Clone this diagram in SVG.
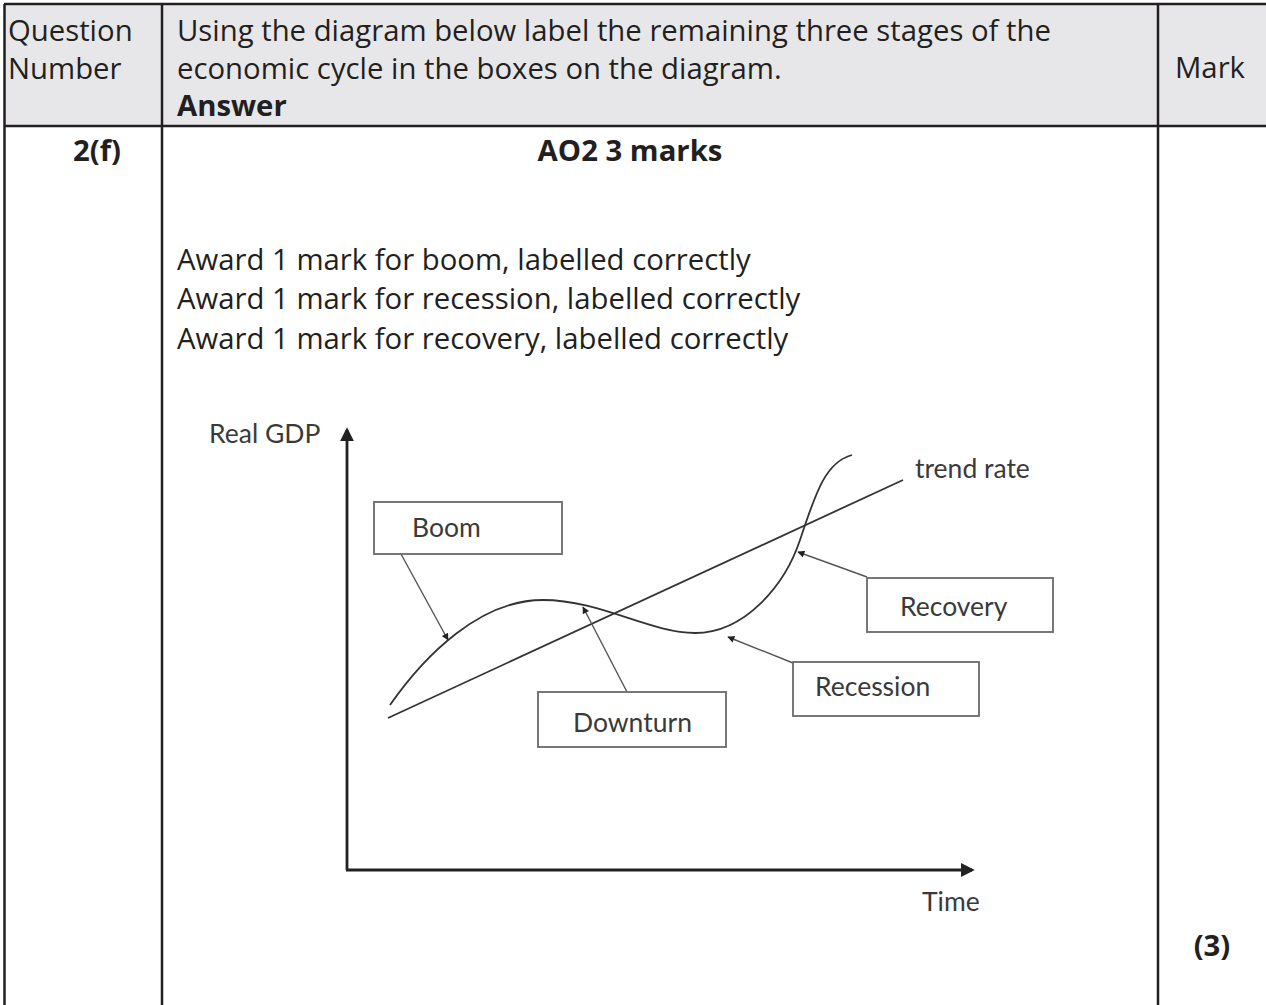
<svg xmlns="http://www.w3.org/2000/svg" width="1266" height="1005" viewBox="0 0 1266 1005">
<style>
.t{font-family:"Open Sans","DejaVu Sans",sans-serif;font-size:29.3px;fill:#231f20}
.b{font-weight:bold}
.c{font-family:Lato,"Liberation Sans",sans-serif;font-size:26.5px;fill:#3a3a3a}
.grid{stroke:#231f20;stroke-width:2.5;fill:none}
.box{fill:#fff;stroke:#6a6a6a;stroke-width:1.8}
.ptr{stroke:#555;stroke-width:1.4;fill:none;marker-end:url(#ah)}
.curve{stroke:#333;stroke-width:1.8;fill:none}
.axis{stroke:#222;stroke-width:2.8;fill:none}
</style>
<defs>
<marker id="ah" viewBox="0 0 10 10" refX="9" refY="5" markerWidth="8" markerHeight="7" markerUnits="userSpaceOnUse" orient="auto"><path d="M0,0 L10,5 L0,10 z" fill="#222"/></marker>
<marker id="axh" viewBox="0 0 10 10" refX="8" refY="5" markerWidth="5" markerHeight="5" orient="auto"><path d="M0,0 L10,5 L0,10 z" fill="#222"/></marker>
</defs>
<rect width="1266" height="1005" fill="#fff"/>
<g id="table">
<rect x="4" y="4" width="1262" height="122" fill="#e7e7e9"/>
<path class="grid" d="M4,4 H1266 M4,126 H1266 M4.5,4 V1005 M162,4 V1005 M1158,4 V1005"/>
<text class="t" x="8" y="41">Question</text>
<text class="t" x="8" y="79">Number</text>
<text class="t" x="177" y="41">Using the diagram below label the remaining three stages of the</text>
<text class="t" x="177" y="79">economic cycle in the boxes on the diagram.</text>
<text class="t b" x="177" y="116">Answer</text>
<text class="t" x="1175" y="78">Mark</text>
<text class="t b" x="97" y="161" text-anchor="middle">2(f)</text>
<text class="t b" x="630" y="161" text-anchor="middle">AO2 3 marks</text>
<text class="t" x="177" y="270">Award 1 mark for boom, labelled correctly</text>
<text class="t" x="177" y="309">Award 1 mark for recession, labelled correctly</text>
<text class="t" x="177" y="349">Award 1 mark for recovery, labelled correctly</text>
<text class="t b" x="1212" y="956" text-anchor="middle">(3)</text>
</g>
<g id="axes">
<path class="axis" d="M347,870 V430" marker-end="url(#axh)"/>
<path class="axis" d="M346,870 H972" marker-end="url(#axh)"/>
<text class="c" x="209" y="443">Real GDP</text>
<text class="c" x="922" y="911">Time</text>
</g>
<g id="curves">
<path id="trend" class="curve" d="M388,718 L903,480"/>
<path id="cycle" class="curve" d="M390,705 C425,655 480,600 543,600 C600,600 650,633 695,633 C745,633 785,585 800,540 C815,495 825,462 852,455"/>
<text class="c" x="915" y="478">trend rate</text>
</g>
<g id="connectors">
<line class="ptr" x1="401" y1="554" x2="448" y2="640"/>
<line class="ptr" x1="627" y1="692" x2="583" y2="607"/>
<line class="ptr" x1="867" y1="577" x2="798" y2="552"/>
<line class="ptr" x1="793" y1="663" x2="728" y2="637"/>
</g>
<g id="boom"><rect class="box" x="374" y="502" width="188" height="52"/><text class="c" x="412" y="537">Boom</text></g>
<g id="downturn"><rect class="box" x="538" y="692" width="188" height="55"/><text class="c" x="573" y="732">Downturn</text></g>
<g id="recession"><rect class="box" x="793" y="662" width="186" height="54"/><text class="c" x="815" y="696">Recession</text></g>
<g id="recovery"><rect class="box" x="867" y="578" width="186" height="54"/><text class="c" x="900" y="616">Recovery</text></g>
</svg>
